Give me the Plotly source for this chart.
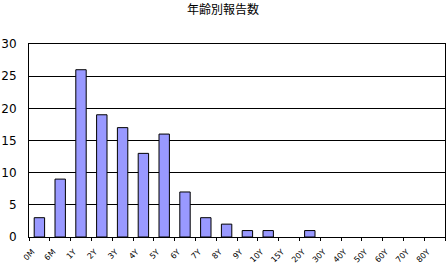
import plotly.graph_objects as go

categories = ["0M", "6M", "1Y", "2Y", "3Y", "4Y", "5Y", "6Y", "7Y", "8Y", "9Y",
              "10Y", "15Y", "20Y", "30Y", "40Y", "50Y", "60Y", "70Y", "80Y"]
counts = [3, 9, 26, 19, 17, 13, 16, 7, 3, 2, 1, 1, 0, 1, 0, 0, 0, 0, 0, 0]
y_ticks = [0, 5, 10, 15, 20, 25, 30]
title = "年齢別報告数"

# zero-height bars get no outline (as in the original)
outline_w = [1 if c > 0 else 0 for c in counts]

fig = go.Figure(go.Bar(
    x=categories, y=counts,
    marker=dict(color="#9999FF", line=dict(color="black", width=outline_w)),
))

fig.update_layout(
    width=446, height=267,
    margin=dict(l=29, r=1, t=44, b=30),
    paper_bgcolor="white", plot_bgcolor="white",
    bargap=0.5,
    showlegend=False,
    title=dict(text=title, x=0.5, xanchor="center", y=0.965, yanchor="middle",
               font=dict(family="Noto Sans CJK JP", size=12, color="black")),
    font=dict(family="DejaVu Sans", color="black"),
)
fig.update_xaxes(
    type="category", showline=True, mirror=True, linecolor="black", linewidth=1,
    ticks="outside", tickson="boundaries", ticklen=3, tickcolor="black",
    tickangle=-45, tickfont=dict(size=8, family="DejaVu Sans", color="black"),
    ticklabelstandoff=6, ticklabelshift=-7,
    showgrid=False, automargin=False,
)
fig.update_yaxes(
    range=[0, 30], tickvals=y_ticks, showline=True, mirror=True,
    linecolor="black", linewidth=1, showgrid=True, gridcolor="black", gridwidth=1,
    ticks="", tickfont=dict(size=12, family="DejaVu Sans", color="black"),
    ticklabelstandoff=9, automargin=False,
    zeroline=False,
)

fig.write_html("out.html")
